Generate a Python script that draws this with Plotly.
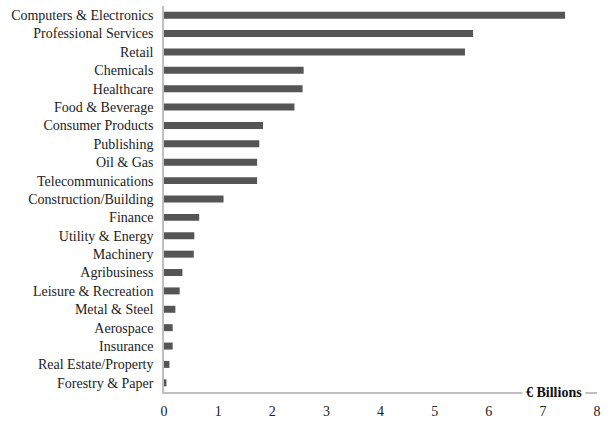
import plotly.graph_objects as go

categories = ["Computers & Electronics", "Professional Services", "Retail", "Chemicals",
              "Healthcare", "Food & Beverage", "Consumer Products", "Publishing",
              "Oil & Gas", "Telecommunications", "Construction/Building", "Finance",
              "Utility & Energy", "Machinery", "Agribusiness", "Leisure & Recreation",
              "Metal & Steel", "Aerospace", "Insurance", "Real Estate/Property",
              "Forestry & Paper"]
values = [7.41, 5.71, 5.56, 2.58, 2.56, 2.41, 1.83, 1.76, 1.72, 1.72, 1.10, 0.65,
          0.56, 0.55, 0.34, 0.29, 0.21, 0.16, 0.16, 0.10, 0.045]
x_ticks = [0, 1, 2, 3, 4, 5, 6, 7, 8]
axis_title = "€ Billions"

FONT = "Liberation Serif"

fig = go.Figure(go.Bar(
    x=values, y=categories, orientation="h",
    marker=dict(color="#555555", line=dict(width=0)),
    width=0.38,
))

fig.update_layout(
    width=614, height=421,
    margin=dict(l=164, r=17, t=6, b=29, autoexpand=False),
    plot_bgcolor="white", paper_bgcolor="white",
    showlegend=False,
    font=dict(family=FONT, size=14, color="#222222"),
)
fig.update_xaxes(
    range=[0, 8], tickvals=x_ticks, showgrid=False, zeroline=False,
    showline=True, linecolor="#bfbfbf", linewidth=1.5, automargin=False,
    ticks="", ticklabelstandoff=5,
    tickfont=dict(family=FONT, size=14, color="#222222"),
)
fig.update_yaxes(
    categoryorder="array", categoryarray=categories[::-1], automargin=False,
    showgrid=False, zeroline=False, showline=True, linecolor="#bfbfbf", linewidth=1.5,
    ticks="", ticklabelstandoff=6,
    tickfont=dict(family=FONT, size=14, color="#222222"),
)
fig.add_annotation(
    x=7.21, y=0, xref="x", yref="paper", text="<b>" + axis_title + "</b>",
    showarrow=False, bgcolor="white", borderpad=3,
    font=dict(family=FONT, size=14, color="#111111"),
    xanchor="center", yanchor="middle",
)

fig.write_html("out.html", config={"displayModeBar": False},
               post_script="document.body.style.margin='0px';")
